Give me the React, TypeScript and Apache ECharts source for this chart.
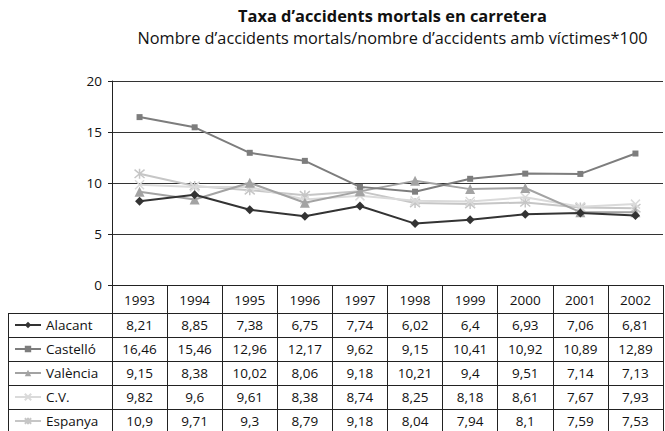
import React, { useEffect, useRef } from "react";
import * as echarts from "echarts";

const years = ["1993", "1994", "1995", "1996", "1997", "1998", "1999", "2000", "2001", "2002"];
const seriesNames = ["Alacant", "Castelló", "València", "C.V.", "Espanya"];
const alacant = [8.21, 8.85, 7.38, 6.75, 7.74, 6.02, 6.4, 6.93, 7.06, 6.81];
const castello = [16.46, 15.46, 12.96, 12.17, 9.62, 9.15, 10.41, 10.92, 10.89, 12.89];
const valencia = [9.15, 8.38, 10.02, 8.06, 9.18, 10.21, 9.4, 9.51, 7.14, 7.13];
const cv = [9.82, 9.6, 9.61, 8.38, 8.74, 8.25, 8.18, 8.61, 7.67, 7.93];
const espanya = [10.9, 9.71, 9.3, 8.79, 9.18, 8.04, 7.94, 8.1, 7.59, 7.53];
const yTicks = [0, 5, 10, 15, 20];

const FONT = "Open Sans";
const GRID_LEFT = 112;
const GRID_RIGHT_X = 663;
const GRID_TOP = 81;
const AXIS_Y = 285;
const HEADER_H = 28;
const ROW_H = 24;

const colors = ["#333333", "#7d7d7d", "#a3a3a3", "#dadada", "#c6c6c6"];
const symbols = [
  "diamond",
  "rect",
  "triangle",
  "path://M0,0L10,10M10,0L0,10",
  "path://M0,0L10,10M10,0L0,10M5,-1L5,11",
];
const symbolSizes = [9, 6, 10, 9, 10];

export default function App() {
  const ref = useRef<HTMLDivElement>(null);
  useEffect(() => {
    if (!ref.current) return;
    const chart = echarts.init(ref.current, null, { renderer: "svg" });
    const data = [alacant, castello, valencia, cv, espanya];
    const W = 665;
    const H = 431;
    const rowTops = seriesNames.map((_, i) => AXIS_Y + HEADER_H + i * ROW_H);
    const tableBottom = AXIS_Y + HEADER_H + seriesNames.length * ROW_H;

    chart.setOption({
      animation: false,
      backgroundColor: "#ffffff",
      title: {
        text: "Taxa d\u2019accidents mortals en carretera",
        subtext: "Nombre d\u2019accidents mortals/nombre d\u2019accidents amb víctimes*100",
        left: (GRID_LEFT + GRID_RIGHT_X) / 2,
        textAlign: "center",
        top: 2,
        itemGap: 7,
        textStyle: { fontFamily: FONT, fontSize: 16.4, fontWeight: "bold", color: "#111" },
        subtextStyle: { fontFamily: FONT, fontSize: 16.3, color: "#111" },
      },
      grid: {
        left: GRID_LEFT,
        right: W - GRID_RIGHT_X,
        top: GRID_TOP,
        bottom: H - AXIS_Y,
        containLabel: false,
      },
      legend: seriesNames.map((n, i) => ({
        data: [n],
        left: 14,
        top: rowTops[i] + 4,
        padding: 0,
        itemWidth: 26,
        itemHeight: 8,
        itemGap: 4,
        selectedMode: false,
        textStyle: { fontFamily: FONT, fontSize: 13.5, lineHeight: 16, color: "#111" },
      })),
      xAxis: {
        type: "category",
        data: years,
        boundaryGap: true,
        axisLine: { show: true, lineStyle: { color: "#222", width: 1 } },
        axisTick: { show: true, length: tableBottom - AXIS_Y, lineStyle: { color: "#222", width: 1 } },
        axisLabel: { margin: 8, fontFamily: FONT, fontSize: 13.5, color: "#111" },
        splitLine: { show: false },
      },
      yAxis: {
        type: "value",
        min: yTicks[0],
        max: yTicks[yTicks.length - 1],
        interval: yTicks[1] - yTicks[0],
        axisLine: { show: true, lineStyle: { color: "#222", width: 1 } },
        axisTick: { show: true, length: 4, lineStyle: { color: "#222" } },
        axisLabel: { margin: 10, fontFamily: FONT, fontSize: 13.5, color: "#111" },
        splitLine: { show: true, lineStyle: { color: "#333", width: 1 } },
      },
      series: seriesNames.map((n, i) => ({
        name: n,
        type: "line",
        data: data[i],
        symbol: symbols[i],
        symbolSize: symbolSizes[i],
        showAllSymbol: true,
        lineStyle: { color: colors[i], width: 2 },
        itemStyle:
          i >= 3
            ? { color: "rgba(0,0,0,0)", borderColor: colors[i], borderWidth: 1.5 }
            : { color: colors[i], borderColor: colors[i], borderWidth: 0 },
        z: 10 - i,
      })),
    });

    const colX = years.map((_, j) => chart.convertToPixel({ xAxisIndex: 0 }, j) as number);
    const elements: any[] = [];
    rowTops.forEach((t) => {
      elements.push({
        type: "line",
        shape: { x1: 8, y1: t + 0.5, x2: GRID_RIGHT_X + 0.5, y2: t + 0.5 },
        style: { stroke: "#222", lineWidth: 1 },
      });
    });
    elements.push({
      type: "line",
      shape: { x1: 8.5, y1: rowTops[0], x2: 8.5, y2: tableBottom },
      style: { stroke: "#222", lineWidth: 1 },
    });
    data.forEach((arr, i) => {
      arr.forEach((v, j) => {
        elements.push({
          type: "text",
          x: colX[j],
          y: rowTops[i] + ROW_H / 2,
          style: {
            text: String(v).replace(".", ","),
            fontFamily: FONT,
            fontSize: 13.5,
            fill: "#111",
            align: "center",
            verticalAlign: "middle",
          },
        });
      });
    });
    chart.setOption({ graphic: { elements } });

    return () => chart.dispose();
  }, []);
  return <div ref={ref} style={{ width: 665, height: 431, position: "absolute", left: 0, top: 0 }} />;
}
